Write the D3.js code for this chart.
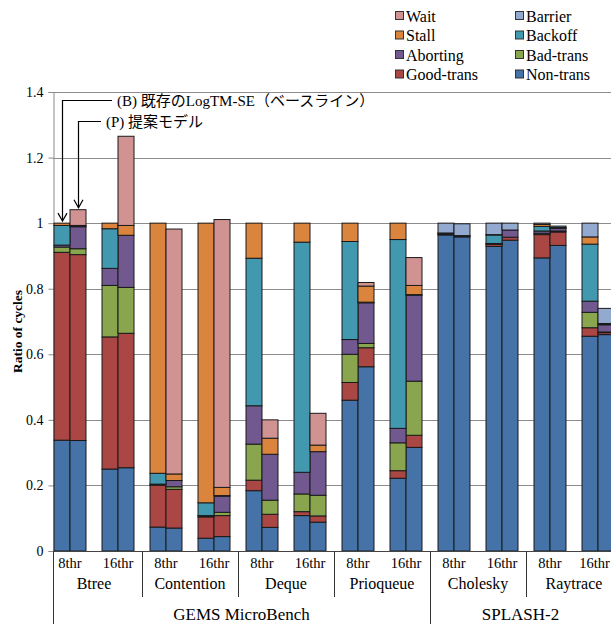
<!DOCTYPE html>
<html>
<head>
<meta charset="utf-8">
<script src="https://cdn.jsdelivr.net/npm/d3@7/dist/d3.min.js"></script>
<style>
  html, body { margin: 0; padding: 0; background: #fff; }
  svg { display: block; }
  text { font-family: "Liberation Serif", "Times New Roman", "Noto Sans CJK JP", serif; fill: #000; }
</style>
</head>
<body>
<svg id="chart" width="611" height="624"></svg>
<script>
// ---- data -------------------------------------------------------------
const benchmarks = ["Btree", "Contention", "Deque", "Prioqueue", "Cholesky", "Raytrace"];
const threads = ["8thr", "16thr"];
const models = ["B", "P"];             // B: baseline LogTM-SE, P: proposed model
const suiteNames = ["GEMS MicroBench", "SPLASH-2"];
const suiteSizes = [4, 2];             // number of benchmarks in each suite

const seriesNames = ["Non-trans", "Good-trans", "Bad-trans", "Aborting", "Backoff", "Stall", "Barrier", "Wait"];
const seriesColors = ["#4572A7", "#AA4643", "#89A54E", "#71588F", "#4198AF", "#DB843D", "#93A9CF", "#D19392"];

// one value per bar, bar order: benchmark > thread > model (B, P)
const nonTrans   = [0.338, 0.337, 0.250, 0.254, 0.073, 0.070, 0.039, 0.044, 0.184, 0.072, 0.108, 0.088,
                    0.460, 0.562, 0.222, 0.316, 0.964, 0.958, 0.929, 0.948, 0.894, 0.932, 0.655, 0.660];
const goodTrans  = [0.573, 0.567, 0.403, 0.410, 0.128, 0.118, 0.065, 0.064, 0.032, 0.040, 0.012, 0.019,
                    0.054, 0.058, 0.023, 0.037, 0.002, 0.002, 0.006, 0.009, 0.071, 0.041, 0.026, 0.006];
const badTrans   = [0.016, 0.018, 0.157, 0.140, 0.001, 0.008, 0.002, 0.010, 0.110, 0.043, 0.054, 0.063,
                    0.086, 0.013, 0.085, 0.165, 0.000, 0.000, 0.001, 0.000, 0.004, 0.003, 0.047, 0.002];
const aborting   = [0.006, 0.067, 0.052, 0.159, 0.002, 0.019, 0.002, 0.049, 0.117, 0.140, 0.066, 0.133,
                    0.045, 0.124, 0.044, 0.262, 0.002, 0.002, 0.002, 0.022, 0.007, 0.008, 0.034, 0.022];
const backoff    = [0.060, 0.002, 0.121, 0.000, 0.033, 0.000, 0.039, 0.002, 0.450, 0.000, 0.702, 0.000,
                    0.299, 0.002, 0.576, 0.002, 0.001, 0.000, 0.026, 0.000, 0.014, 0.002, 0.174, 0.003];
const stall      = [0.007, 0.002, 0.017, 0.030, 0.763, 0.020, 0.853, 0.025, 0.107, 0.049, 0.058, 0.020,
                    0.056, 0.049, 0.050, 0.028, 0.001, 0.000, 0.001, 0.000, 0.006, 0.001, 0.022, 0.001];
const barrier    = [0.000, 0.000, 0.000, 0.000, 0.000, 0.000, 0.000, 0.000, 0.000, 0.000, 0.000, 0.000,
                    0.000, 0.000, 0.000, 0.000, 0.030, 0.036, 0.035, 0.021, 0.004, 0.004, 0.042, 0.046];
const wait       = [0.000, 0.048, 0.000, 0.272, 0.000, 0.747, 0.000, 0.817, 0.000, 0.056, 0.000, 0.097,
                    0.000, 0.011, 0.000, 0.085, 0.000, 0.000, 0.000, 0.000, 0.000, 0.000, 0.000, 0.000];

const yTicks = [0, 0.2, 0.4, 0.6, 0.8, 1, 1.2, 1.4];
const legendOrder = ["Wait", "Barrier", "Stall", "Backoff", "Aborting", "Bad-trans", "Good-trans", "Non-trans"];
const annotationLabels = ["(B) 既存のLogTM-SE（ベースライン）", "(P) 提案モデル"];

// ---- build table ------------------------------------------------------
const seriesValues = [nonTrans, goodTrans, badTrans, aborting, backoff, stall, barrier, wait];
const conditions = [];
benchmarks.forEach(b => threads.forEach(t => conditions.push(b + "|" + t)));
const bars = [];
conditions.forEach(c => models.forEach(m => {
  const i = bars.length;
  const row = { cond: c, model: m };
  seriesNames.forEach((s, k) => row[s] = seriesValues[k][i]);
  bars.push(row);
}));
const stacked = d3.stack().keys(seriesNames)(bars);

// ---- layout -----------------------------------------------------------
const svg = d3.select("#chart");
const W = 611, plotLeft = 53, plotRight = 611, plotTop = 92, plotBottom = 551;

const y = d3.scaleLinear().domain([0, 1.4]).range([plotBottom, plotTop]);
const x = d3.scaleBand().domain(conditions)
  .range([plotLeft - 7, plotLeft - 7 + 48 * conditions.length])
  .paddingInner(1 / 3).paddingOuter(1 / 6);
const xm = d3.scaleBand().domain(models).range([0, x.bandwidth()]);
const color = d3.scaleOrdinal().domain(seriesNames).range(seriesColors);

// gridlines
svg.append("g")
  .selectAll("line").data(yTicks.filter(d => d > 0)).join("line")
  .attr("x1", plotLeft).attr("x2", plotRight)
  .attr("y1", d => Math.round(y(d)) + 0.5).attr("y2", d => Math.round(y(d)) + 0.5)
  .attr("stroke", "#8c8c8c").attr("stroke-width", 1);

// y axis
const yAxis = svg.append("g")
  .attr("transform", `translate(${plotLeft + 0.5},0)`)
  .call(d3.axisLeft(y).tickValues(yTicks).tickSize(5).tickPadding(5)
    .tickFormat(d => d3.format("~g")(d)));
yAxis.select(".domain").attr("stroke", "#8c8c8c");
yAxis.selectAll(".tick line").attr("stroke", "#8c8c8c");
yAxis.selectAll(".tick text").attr("font-size", 14)
  .style("font-family", "'Liberation Serif', serif");

// y axis title
svg.append("text")
  .attr("transform", `translate(17,${(plotTop + plotBottom) / 2 + 10}) rotate(-90)`)
  .attr("text-anchor", "middle").attr("dominant-baseline", "central")
  .attr("font-size", 13.5).attr("font-weight", "bold")
  .text("Ratio of cycles");

// stacked bars
svg.append("g")
  .selectAll("g").data(stacked).join("g")
  .attr("fill", d => color(d.key))
  .selectAll("rect").data(d => d.filter(p => p[1] - p[0] > 0)).join("rect")
  .attr("x", d => x(d.data.cond) + xm(d.data.model))
  .attr("width", xm.bandwidth())
  .attr("y", d => y(d[1]))
  .attr("height", d => y(d[0]) - y(d[1]))
  .attr("stroke", "#1a1a1a").attr("stroke-width", 1);

// x axis baseline
svg.append("line")
  .attr("x1", plotLeft).attr("x2", plotRight)
  .attr("y1", plotBottom + 0.5).attr("y2", plotBottom + 0.5)
  .attr("stroke", "#444");

// ---- multi-level category axis ---------------------------------------
const cat = svg.append("g");
const step = x.step(), gap = step - x.bandwidth();
// thread labels (kept inside the canvas at the right edge)
cat.selectAll("text.thr").data(conditions).join("text")
  .attr("class", "thr")
  .attr("x", d => x(d) + x.bandwidth() / 2)
  .attr("y", 568)
  .attr("text-anchor", "middle").attr("font-size", 14.5)
  .text(d => d.split("|")[1])
  .each(function () {
    const bb = this.getBBox();
    if (bb.x + bb.width > W - 1) {
      d3.select(this).attr("x", +d3.select(this).attr("x") - (bb.x + bb.width - (W - 1)));
    }
  });
// benchmark labels
cat.selectAll("text.bench").data(benchmarks).join("text")
  .attr("class", "bench")
  .attr("x", b => (x(b + "|" + threads[0]) + x(b + "|" + threads[1]) + x.bandwidth()) / 2)
  .attr("y", 589)
  .attr("text-anchor", "middle").attr("font-size", 16)
  .text(b => b);
// divider lines between benchmarks; suite boundaries run the full height
let idx = 0;
const suiteStarts = suiteSizes.map(n => { const s = idx; idx += n; return s; });
benchmarks.forEach((b, i) => {
  const isSuite = suiteStarts.includes(i);
  const bx = i === 0 ? plotLeft : Math.round(x(b + "|" + threads[0]) - gap / 2);
  cat.append("line")
    .attr("x1", bx + 0.5).attr("x2", bx + 0.5)
    .attr("y1", plotBottom).attr("y2", isSuite ? 624 : 597)
    .attr("stroke", "#333");
});
// suite labels
suiteNames.forEach((s, i) => {
  const first = benchmarks[suiteStarts[i]];
  const left = i === 0 ? plotLeft : x(first + "|" + threads[0]) - gap / 2;
  const nextIdx = suiteStarts[i] + suiteSizes[i];
  const right = nextIdx < benchmarks.length ? x(benchmarks[nextIdx] + "|" + threads[0]) - gap / 2 : plotRight;
  cat.append("text")
    .attr("x", (left + right) / 2).attr("y", 620)
    .attr("text-anchor", "middle").attr("font-size", 17)
    .text(s);
});

// ---- annotation arrows for the first pair of bars --------------------
const firstCond = conditions[0];
const annLevels = [plotTop + 8.5, plotTop + 29.5];
const annTextX = [117, 106];
models.forEach((m, i) => {
  const bx = Math.round(x(firstCond) + xm(m) + xm.bandwidth() / 2) + 0.5;
  const top = y(d3.sum(seriesNames, s => bars[i][s])) - 2;
  const g = svg.append("g").attr("stroke", "#000").attr("stroke-width", 1.2).attr("fill", "none");
  g.append("path").attr("d", `M${annTextX[i] - 5},${annLevels[i]} H${bx} V${top}`);
  g.append("path").attr("d", `M${bx - 4.5},${top - 8} L${bx},${top} L${bx + 4.5},${top - 8}`);
  svg.append("text")
    .attr("x", annTextX[i]).attr("y", annLevels[i])
    .attr("dominant-baseline", "central").attr("font-size", 15)
    .text(annotationLabels[i]);
});

// ---- legend -----------------------------------------------------------
const legend = svg.append("g");
const legCols = [395, 515], legRows = [16, 35.5, 55, 74.5];
legendOrder.forEach((name, i) => {
  const cx = legCols[i % 2], cy = legRows[Math.floor(i / 2)];
  legend.append("rect")
    .attr("x", cx + 0.5).attr("y", cy - 4.5).attr("width", 8).attr("height", 8)
    .attr("fill", color(name)).attr("stroke", "#333").attr("stroke-width", 1);
  legend.append("text")
    .attr("x", cx + 11).attr("y", cy).attr("dominant-baseline", "central")
    .attr("font-size", 16).text(name);
});
</script>
</body>
</html>
